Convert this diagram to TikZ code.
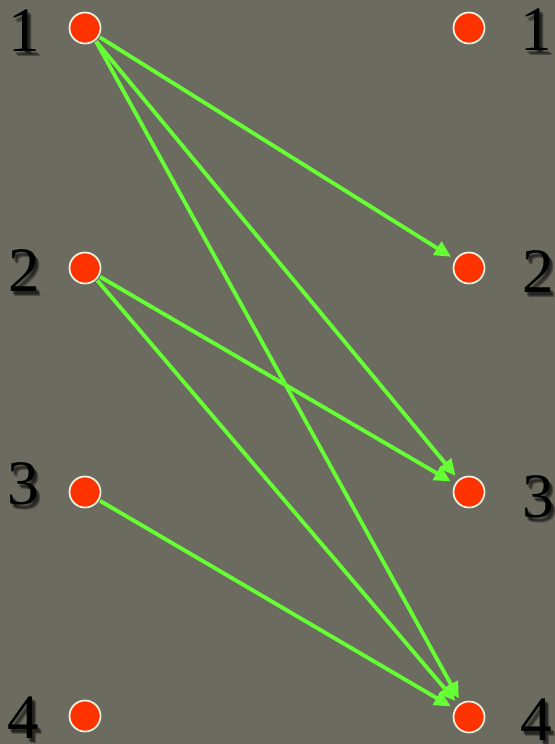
\documentclass[tikz,border=0pt]{standalone}
\usepackage{fontspec}
\setmainfont{Liberation Serif}
\usepackage{tikz}
\usetikzlibrary{arrows.meta,positioning}
\definecolor{slate}{RGB}{107,107,96}
\definecolor{dotred}{RGB}{255,51,0}
\definecolor{rim}{RGB}{240,240,225}
\definecolor{linkgreen}{RGB}{102,255,51}

\begin{document}
\begin{tikzpicture}[
    x=0.03cm, y=-0.03cm,
    dot/.style={circle, draw=rim, fill=dotred, line width=1.5pt, inner sep=0pt, minimum size=0.93cm},
    num/.style={font=\fontsize{54}{54}\selectfont, text=black, inner sep=0pt},
    numshadow/.style={num, text=black, opacity=0.3},
    link/.style={linkgreen, line width=3.3pt, -{Triangle[length=14pt,width=13pt]}, shorten >=4pt, shorten <=1pt}
]
    \fill[slate] (0,0) rectangle (555,744);
    \useasboundingbox (0,0) rectangle (555,744);

    % left side
    \node[dot] (l1) at (85,28) {};
    \node[dot] (l2) at (85,268) {};
    \node[dot] (l3) at (85,492) {};
    \node[dot] (l4) at (85,716) {};

    % right side
    \node[dot] (r1) at (469,28) {};
    \node[dot] (r2) at (469,268) {};
    \node[dot] (r3) at (469,492) {};
    \node[dot] (r4) at (469,717) {};

    % numbers (soft shadow first)
    \foreach \dx/\dy in {3/4, 4/5, 2/3} {
        \node[numshadow] at (24+\dx,31+\dy) {1};
        \node[numshadow] at (24+\dx,271+\dy) {2};
        \node[numshadow] at (23+\dx,484+\dy) {3};
        \node[numshadow] at (23+\dx,718+\dy) {4};
        \node[numshadow] at (536+\dx,30+\dy) {1};
        \node[numshadow] at (538+\dx,272+\dy) {2};
        \node[numshadow] at (538+\dx,497+\dy) {3};
        \node[numshadow] at (536+\dx,720+\dy) {4};
    }
    \node[num] (nl1) at (24,31) {1};
    \node[num] (nl2) at (24,271) {2};
    \node[num] (nl3) at (23,484) {3};
    \node[num] (nl4) at (23,718) {4};
    \node[num] (nr1) at (536,30) {1};
    \node[num] (nr2) at (538,272) {2};
    \node[num] (nr3) at (538,497) {3};
    \node[num] (nr4) at (536,720) {4};

    % edges
    \draw[link] (l1) -- (r2);
    \draw[link] (l1) -- (r3);
    \draw[link] (l1.-50) -- (r4);
    \draw[link] (l2) -- (r3);
    \draw[link] (l2.-45) -- (r4);
    \draw[link] (l3) -- (r4);
\end{tikzpicture}
\end{document}
